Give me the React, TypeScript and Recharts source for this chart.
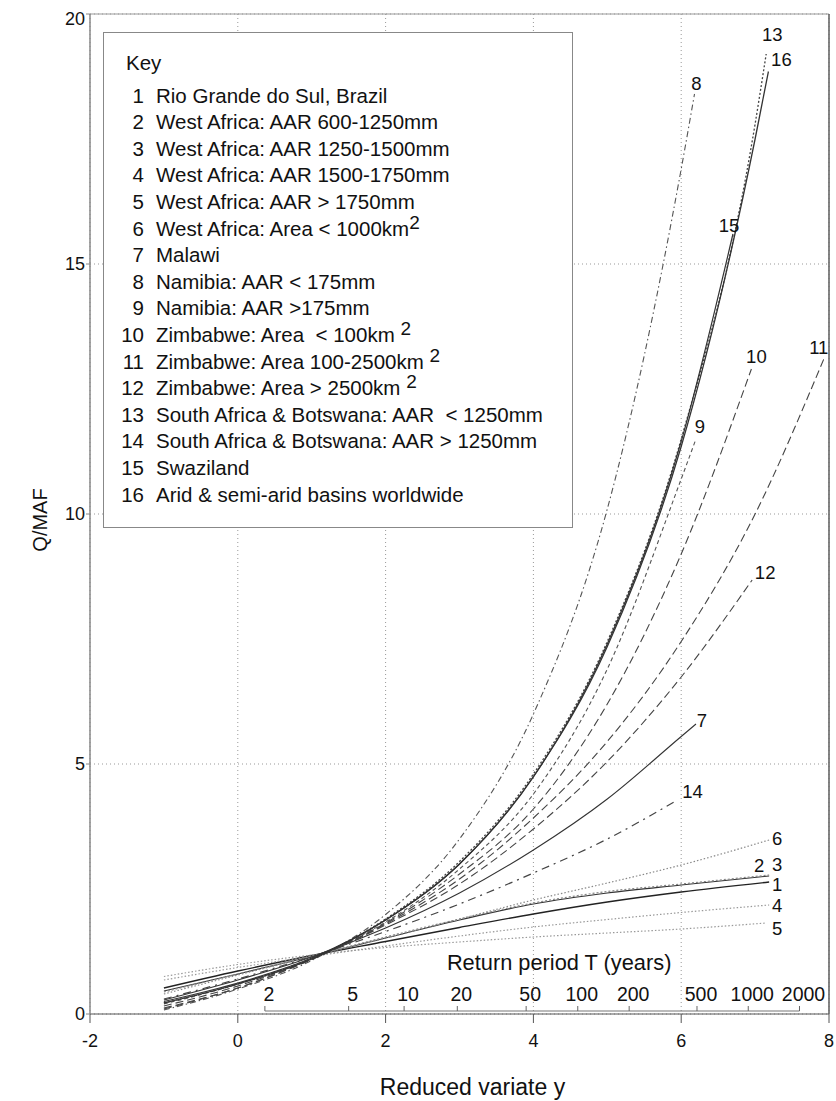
import React from 'react';
import { ComposedChart, Line, XAxis, YAxis, CartesianGrid, ReferenceLine, Legend } from 'recharts';

type Pt = [number, number];

// Q/MAF against the reduced variate y
const curve1: Pt[] = [[-1, 0.52], [0, 0.86], [1, 1.17], [2, 1.45], [3, 1.73], [4, 2.0], [5, 2.24], [6, 2.44], [7.19, 2.64]];
const curve2: Pt[] = [[-1, 0.46], [0, 0.8], [1, 1.15], [2, 1.52], [3, 1.88], [4, 2.2], [5, 2.42], [6, 2.58], [7.19, 2.76]];
const curve3: Pt[] = [[-1, 0.44], [0, 0.8], [1, 1.16], [2, 1.54], [3, 1.9], [4, 2.22], [5, 2.45], [6, 2.6], [7.19, 2.78]];
const curve4: Pt[] = [[-1, 0.68], [0, 0.93], [1, 1.15], [2, 1.36], [3, 1.56], [4, 1.74], [5, 1.89], [6, 2.03], [7.19, 2.18]];
const curve5: Pt[] = [[-1, 0.75], [0, 0.99], [1, 1.18], [2, 1.33], [3, 1.44], [4, 1.54], [5, 1.62], [6, 1.7], [7.15, 1.82]];
const curve6: Pt[] = [[-1, 0.4], [0, 0.78], [1, 1.15], [2, 1.52], [3, 1.9], [4, 2.28], [5, 2.62], [6, 2.98], [7.19, 3.48]];
const curve7: Pt[] = [[-1, 0.28], [0, 0.68], [1, 1.14], [2, 1.72], [3, 2.42], [4, 3.28], [5, 4.3], [6, 5.55], [6.2, 5.8]];
const curve8: Pt[] = [[-1, 0.08], [0, 0.5], [1, 1.07], [2, 1.99], [3, 3.5], [4, 6.0], [5, 10.1], [6, 16.9], [6.18, 18.4]];
const curve9: Pt[] = [[-1, 0.2], [0, 0.6], [1, 1.12], [2, 1.84], [3, 2.9], [4, 4.4], [5, 6.9], [6, 10.7], [6.2, 11.5]];
const curve10: Pt[] = [[-1, 0.16], [0, 0.56], [1, 1.1], [2, 1.82], [3, 2.8], [4, 4.1], [5, 6.2], [6, 9.2], [6.95, 12.9]];
const curve11: Pt[] = [[-1, 0.1], [0, 0.52], [1, 1.09], [2, 1.8], [3, 2.7], [4, 3.92], [5, 5.45], [6, 7.45], [7, 10.0], [7.93, 13.1]];
const curve12: Pt[] = [[-1, 0.12], [0, 0.52], [1, 1.09], [2, 1.78], [3, 2.6], [4, 3.7], [5, 5.05], [6, 6.74], [6.96, 8.68]];
const curve13: Pt[] = [[-1, 0.22], [0, 0.6], [1, 1.1], [2, 1.9], [3, 3.05], [4, 4.8], [5, 7.45], [6, 11.5], [7, 17.8], [7.15, 19.2]];
const curve14: Pt[] = [[-1, 0.3], [0, 0.7], [1, 1.15], [2, 1.65], [3, 2.2], [4, 2.82], [5, 3.5], [5.95, 4.28]];
const curve15: Pt[] = [[-1, 0.25], [0, 0.62], [1, 1.12], [2, 1.88], [3, 3.0], [4, 4.74], [5, 7.4], [6, 11.45], [6.7, 15.6]];
const curve16: Pt[] = [[-1, 0.22], [0, 0.6], [1, 1.1], [2, 1.88], [3, 3.0], [4, 4.75], [5, 7.35], [6, 11.35], [7, 17.5], [7.18, 18.85]];

const curves = [curve1, curve2, curve3, curve4, curve5, curve6, curve7, curve8, curve9, curve10, curve11, curve12, curve13, curve14, curve15, curve16];

const curveKeys = ['1', '2', '3', '4', '5', '6', '7', '8', '9', '10', '11', '12', '13', '14', '15', '16'];

// '^' marks a superscript
const curveNames = [
  'Rio Grande do Sul, Brazil',
  'West Africa: AAR 600-1250mm',
  'West Africa: AAR 1250-1500mm',
  'West Africa: AAR 1500-1750mm',
  'West Africa: AAR > 1750mm',
  'West Africa: Area < 1000km^2',
  'Malawi',
  'Namibia: AAR < 175mm',
  'Namibia: AAR >175mm',
  'Zimbabwe: Area  < 100km ^2',
  'Zimbabwe: Area 100-2500km ^2',
  'Zimbabwe: Area > 2500km ^2',
  'South Africa & Botswana: AAR  < 1250mm',
  'South Africa & Botswana: AAR > 1250mm',
  'Swaziland',
  'Arid & semi-arid basins worldwide',
];

const returnPeriods = [2, 5, 10, 20, 50, 100, 200, 500, 1000, 2000];
const xTicks = [-2, 0, 2, 4, 6, 8];
const yTicks = [0, 5, 10, 15, 20];

const FONT = '"Liberation Sans", Arial, Helvetica, sans-serif';

// Gumbel reduced variate for a return period
const reducedVariate = (T: number) => -Math.log(-Math.log(1 - 1 / T));
const RETURN_AXIS_Q = 0.06;

const lineStyles = [
  { stroke: '#222', dash: undefined, w: 1.3 },
  { stroke: '#333', dash: undefined, w: 1.1 },
  { stroke: '#888', dash: '2 2', w: 1.2 },
  { stroke: '#999', dash: '1.5 2', w: 1.2 },
  { stroke: '#999', dash: '1.5 2', w: 1.2 },
  { stroke: '#888', dash: '1.5 2', w: 1.2 },
  { stroke: '#333', dash: undefined, w: 1.1 },
  { stroke: '#555', dash: '6 3 1.5 3', w: 1.1 },
  { stroke: '#555', dash: '4 3', w: 1.1 },
  { stroke: '#444', dash: '8 4', w: 1.1 },
  { stroke: '#444', dash: '8 4', w: 1.1 },
  { stroke: '#444', dash: '8 4', w: 1.1 },
  { stroke: '#444', dash: '2 2', w: 1.3 },
  { stroke: '#444', dash: '8 5 2 5', w: 1.2 },
  { stroke: '#333', dash: undefined, w: 1.2 },
  { stroke: '#333', dash: undefined, w: 1.3 },
];

// offset of each curve number from the curve end, px
const labelShift: Pt[] = [
  [8, 2], [-10, -11], [8, -11], [8, 0], [11, 5], [8, -2], [6, -4], [2, -11],
  [4, -13], [5, -13], [-5, -12], [13, -8], [6, -20], [15, -9], [-4, -9], [13, -12],
];

const endLabel = (i: number, last: number) => (props: any) => {
  if (props.index !== last) return null;
  const x = props.x ?? props.viewBox?.x;
  const y = props.y ?? props.viewBox?.y;
  if (x == null || y == null) return null;
  return (
    <text
      x={x + labelShift[i][0]}
      y={y + labelShift[i][1]}
      textAnchor="middle"
      dominantBaseline="central"
      fontSize={18.5}
      fill="#111"
      fontFamily={FONT}
    >
      {curveKeys[i]}
    </text>
  );
};

const ReturnTick = (props: any) => {
  const { cx, cy, payload, index } = props;
  if (cx == null || cy == null) return <g key={`rt-${index}`} />;
  return (
    <g key={`rt-${index}`}>
      <line x1={cx} y1={cy} x2={cx} y2={cy - 5} stroke="#666" strokeWidth={1} />
      <text x={cx + 4} y={cy - 17} textAnchor="middle" dominantBaseline="central" fontSize={19.5} fill="#111" fontFamily={FONT}>
        {payload.T}
      </text>
    </g>
  );
};

const returnTitle = (props: any) => {
  const vb = props.viewBox || { x: 257, y: 1003 };
  return (
    <text x={vb.x + 182} y={vb.y - 49} dominantBaseline="central" fontSize={21.8} fill="#111" fontFamily={FONT}>
      Return period T (years)
    </text>
  );
};

const xTitle = (props: any) => {
  const vb = props.viewBox || { x: 82, y: 1006, width: 739, height: 40 };
  return (
    <text x={vb.x + vb.width / 2 + 13} y={vb.y + 73} textAnchor="middle" dominantBaseline="central" fontSize={23} fill="#111" fontFamily={FONT}>
      Reduced variate y
    </text>
  );
};

const yTitle = (props: any) => {
  const vb = props.viewBox || { x: 22, y: 6, width: 60, height: 1000 };
  const cx = vb.x + 10;
  const cy = vb.y + vb.height / 2 + 6;
  return (
    <text x={cx} y={cy} transform={`rotate(-90 ${cx} ${cy})`} textAnchor="middle" dominantBaseline="central" fontSize={20} fill="#111" fontFamily={FONT}>
      Q/MAF
    </text>
  );
};

const renderName = (name: string) => {
  const parts = name.split('^');
  if (parts.length < 2) return name;
  return (
    <>
      {parts[0]}
      <span style={{ position: 'relative', top: -7, fontSize: 19, lineHeight: 0 }}>{parts[1]}</span>
    </>
  );
};

const KeyBox = () => (
  <div
    style={{
      width: 470,
      height: 496,
      boxSizing: 'border-box',
      border: '1px solid #888',
      background: '#fff',
      fontFamily: FONT,
      fontSize: 20.5,
      color: '#111',
      position: 'relative',
    }}
  >
    <div style={{ position: 'absolute', left: 22, top: 29.5 - 13, lineHeight: '26px' }}>Key</div>
    {curveNames.map((name, i) => (
      <div
        key={`key-${i}`}
        style={{ position: 'absolute', left: 0, top: 62.5 + i * 26.6 - 13, lineHeight: '26px', whiteSpace: 'pre', display: 'flex' }}
      >
        <span style={{ width: 40, textAlign: 'right' }}>{curveKeys[i]}</span>
        <span style={{ marginLeft: 12 }}>{renderName(name)}</span>
      </div>
    ))}
  </div>
);

export default function App() {
  const returnData = returnPeriods.map((T) => ({ x: reducedVariate(T), q: RETURN_AXIS_Q, T }));

  return (
    <div style={{ padding: '8px 0 0 8px', background: '#fff' }}>
      <style>{'body { margin: 0; overflow: hidden; }'}</style>
      <ComposedChart width={828} height={1093} margin={{ top: 6, right: 7, bottom: 47, left: 22 }}>
        <CartesianGrid strokeDasharray="1 3" stroke="#999" />
        <XAxis
          type="number"
          dataKey="x"
          domain={[-2, 8]}
          ticks={xTicks}
          allowDataOverflow
          height={40}
          tickSize={9}
          tickMargin={11}
          stroke="#555"
          tick={{ fontSize: 18, fill: '#111', fontFamily: FONT }}
          label={xTitle}
        />
        <YAxis
          type="number"
          domain={[0, 20]}
          ticks={yTicks}
          allowDataOverflow
          width={60}
          tickSize={4}
          tickMargin={1}
          stroke="#888"
          axisLine={{ stroke: '#888', strokeWidth: 1.5 }}
          tick={{ fontSize: 18, fill: '#111', fontFamily: FONT }}
          label={yTitle}
        />
        <ReferenceLine y={20} stroke="#999" strokeWidth={1} />
        <ReferenceLine x={8} stroke="#666" strokeWidth={1.6} />

        {curves.map((c, i) => (
          <Line
            key={`curve-${curveKeys[i]}`}
            name={curveKeys[i]}
            data={c.map(([x, q]) => ({ x, q }))}
            dataKey="q"
            type="monotone"
            stroke={lineStyles[i].stroke}
            strokeWidth={lineStyles[i].w}
            strokeDasharray={lineStyles[i].dash}
            dot={false}
            activeDot={false}
            isAnimationActive={false}
            label={endLabel(i, c.length - 1)}
          />
        ))}

        <ReferenceLine
          segment={[
            { x: reducedVariate(returnPeriods[0]), y: RETURN_AXIS_Q },
            { x: reducedVariate(returnPeriods[returnPeriods.length - 1]), y: RETURN_AXIS_Q },
          ]}
          stroke="#777"
          strokeWidth={1.2}
          label={returnTitle}
        />
        <Line
          name="return-period"
          data={returnData}
          dataKey="q"
          stroke="none"
          dot={ReturnTick}
          activeDot={false}
          isAnimationActive={false}
          legendType="none"
        />

        <Legend
          layout="vertical"
          align="center"
          verticalAlign="middle"
          width={470}
          height={496}
          wrapperStyle={{ left: 95, top: 24, width: 470, height: 496, margin: 0 }}
          content={() => <KeyBox />}
        />
      </ComposedChart>
    </div>
  );
}
